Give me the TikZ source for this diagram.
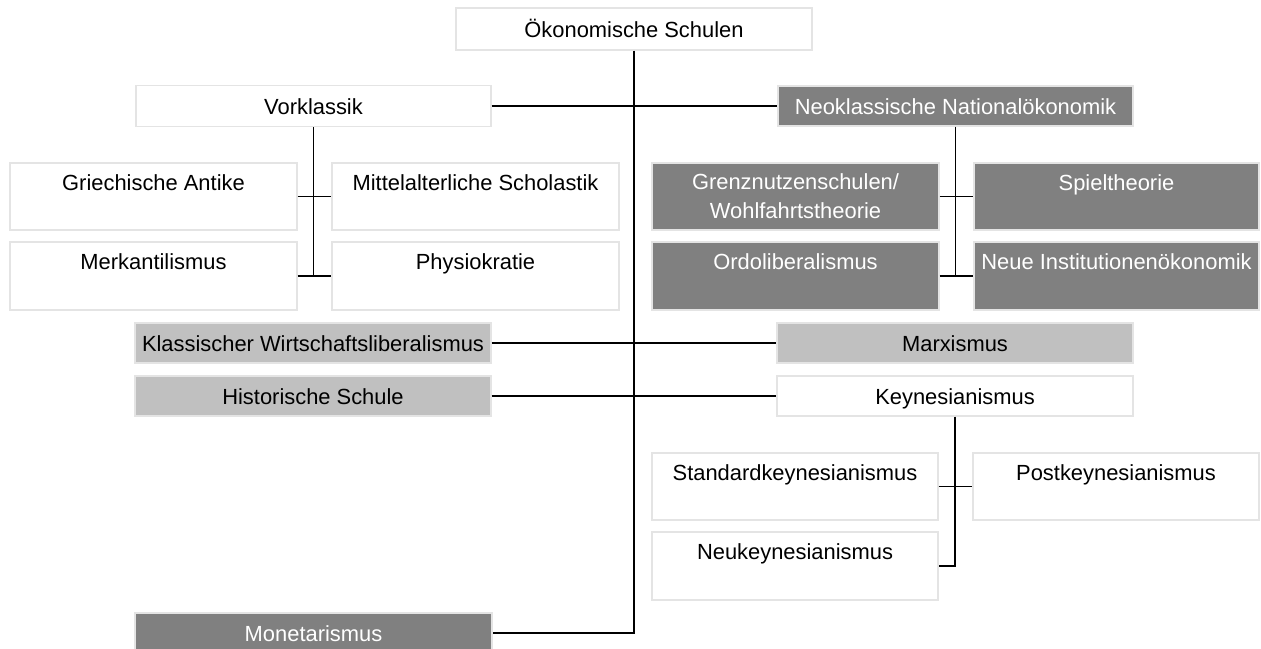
\documentclass[tikz,border=0pt]{standalone}
\usepackage{fontspec}
\setmainfont{Liberation Sans}
\usetikzlibrary{calc}
\definecolor{dk}{RGB}{128,128,128}
\definecolor{lt}{RGB}{192,192,192}
\definecolor{bd}{RGB}{228,228,228}
\newcommand{\bfnt}{\fontsize{21.9}{29}\selectfont}
\begin{document}
\begin{tikzpicture}[x=1pt,y=-1pt,
  box/.style={draw=bd, line width=1.3pt, inner sep=0pt, font=\bfnt, text height=20pt, text depth=3pt},
  wbox/.style={box, fill=white},
  dbox/.style={box, fill=dk, text=white},
  lbox/.style={box, fill=lt},
  wide/.style={minimum width=356pt, minimum height=40pt},
  tall/.style={minimum width=287pt, minimum height=67pt},
  txt/.style={inner sep=0pt, anchor=base, font=\bfnt},
  conn/.style={line width=1.9pt, black}]
\fill[white] (0,0) rectangle (1261,648);
\useasboundingbox (0,0) rectangle (1261,648);

% top level
\node[wbox, wide, minimum height=42pt] (oek) at (634,29) {Ökonomische Schulen};
\node[wbox, wide, minimum width=355pt, minimum height=41pt] (vork) at (313.5,106) {Vorklassik};
\node[dbox, wide, minimum width=355pt] (neok) at (955.5,106) {Neoklassische Nationalökonomik};

% Vorklassik children
\node[wbox, tall] (ga) at (153.5,196.5) {};
\node[wbox, tall] (mit) at (475.5,196.5) {};
\node[wbox, tall, minimum height=68pt] (mk) at (153.5,276) {};
\node[wbox, tall, minimum height=68pt] (phy) at (475.5,276) {};
\node[txt, text=black] (gaT) at ($(ga.north)+(0,28)$) {Griechische Antike};
\node[txt, text=black] (mitT) at ($(mit.north)+(0,28)$) {Mittelalterliche Scholastik};
\node[txt, text=black] (mkT) at ($(mk.north)+(0,28)$) {Merkantilismus};
\node[txt, text=black] (phyT) at ($(phy.north)+(0,28)$) {Physiokratie};

% Neoklassik children
\node[dbox, tall] (gz) at (795.5,196.5) {};
\node[dbox, tall, minimum width=285pt] (sp) at (1116.5,196.5) {};
\node[dbox, tall, minimum height=68pt] (ordo) at (795.5,276) {};
\node[dbox, tall, minimum width=285pt, minimum height=68pt] (nie) at (1116.5,276) {};
\node[txt, text=white] (gzT) at ($(gz.north)+(0,27)$) {\begin{tabular}[t]{@{}c@{}}Grenznutzenschulen/\\Wohlfahrtstheorie\end{tabular}};
\node[txt, text=white] (spT) at ($(sp.north)+(0,28)$) {Spieltheorie};
\node[txt, text=white] (ordoT) at ($(ordo.north)+(0,28)$) {Ordoliberalismus};
\node[txt, text=white] (nieT) at ($(nie.north)+(0,28)$) {Neue Institutionenökonomik};

% middle rows
\node[lbox, wide] (kw) at (313,343) {Klassischer Wirtschaftsliberalismus};
\node[lbox, wide] (marx) at (955,343) {Marxismus};
\node[lbox, wide] (hs) at (313,396) {Historische Schule};
\node[wbox, wide] (keyn) at (955,396) {Keynesianismus};

% Keynes children
\node[wbox, tall, minimum width=286pt] (std) at (795,486.5) {};
\node[wbox, tall, minimum width=286pt] (post) at (1116,486.5) {};
\node[wbox, tall, minimum width=286pt, minimum height=68pt] (neuk) at (795,566) {};
\node[txt, text=black] (stdT) at ($(std.north)+(0,28)$) {Standardkeynesianismus};
\node[txt, text=black] (postT) at ($(post.north)+(0,28)$) {Postkeynesianismus};
\node[txt, text=black] (neukT) at ($(neuk.north)+(0,28)$) {Neukeynesianismus};

% Monetarismus
\node[dbox, wide, minimum width=357pt] (mon) at (313.5,633) {Monetarismus};

% connectors
\draw[conn] (oek.south) -- (oek.south |- mon.east) -- (mon.east);
\draw[conn] (vork.east) -- (neok.west);
\draw[conn] (kw.east) -- (marx.west);
\draw[conn] (hs.east) -- (keyn.west);

\draw[conn] (vork.south) -- (vork.south |- mk.east);
\draw[conn] (ga.east) -- (mit.west);
\draw[conn] (mk.east) -- (phy.west);

\draw[conn] (neok.south) -- (neok.south |- ordo.east);
\draw[conn] (gz.east) -- (sp.west);
\draw[conn] (ordo.east) -- (nie.west);

\draw[conn] (keyn.south) -- (keyn.south |- neuk.east) -- (neuk.east);
\draw[conn] (std.east) -- (post.west);
\end{tikzpicture}
\end{document}
